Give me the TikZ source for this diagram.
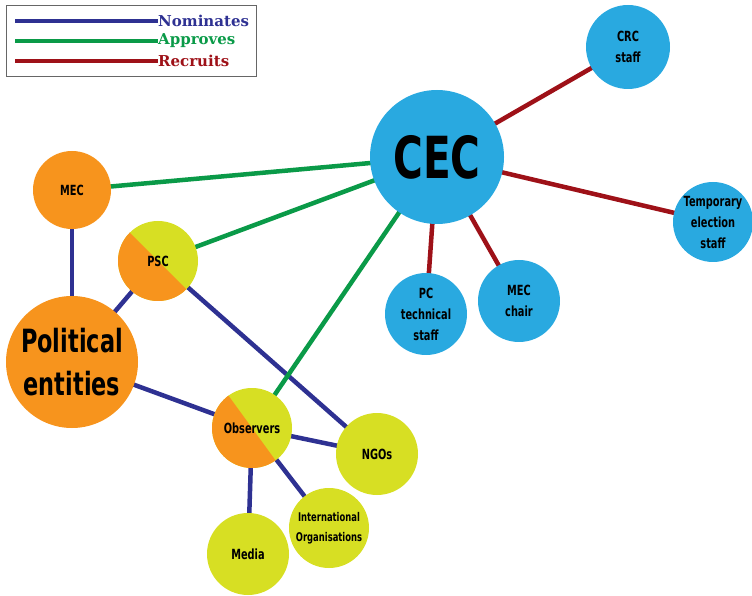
\documentclass[tikz,border=0pt]{standalone}
\usepackage{fontspec}
\usepackage{tikz}
\usetikzlibrary{backgrounds,calc}
\newfontfamily\lblfont[FakeStretch=0.7]{DejaVu Sans}
\newfontfamily\keyfont{DejaVu Serif}
\definecolor{nomblue}{HTML}{2E3192}
\definecolor{appgreen}{HTML}{0A9A48}
\definecolor{recred}{HTML}{9E1118}
\definecolor{cecblue}{HTML}{29A9E0}
\definecolor{partyorange}{HTML}{F7941D}
\definecolor{civylw}{HTML}{D7DF23}
\tikzset{
  bubble/.style={circle, inner sep=0pt, align=center, font=\lblfont\bfseries\fontsize{14}{21}\selectfont},
  body/.style={bubble, fill=cecblue},
  party/.style={bubble, fill=partyorange},
  civil/.style={bubble, fill=civylw},
  halfnode/.style={bubble, fill=civylw,
    path picture={\fill[partyorange]
      ($(path picture bounding box.center)+(#1:80pt)$) -- ($(path picture bounding box.center)+(#1-90:80pt)$)
      -- ($(path picture bounding box.center)+(#1+180:80pt)$) -- cycle;}},
  nom/.style={draw=nomblue, line width=4.5pt},
  app/.style={draw=appgreen, line width=4.5pt},
  rec/.style={draw=recred, line width=4.5pt},
  keytxt/.style={anchor=west, inner sep=0pt, font=\keyfont\bfseries\fontsize{15}{16}\selectfont}}

\begin{document}
\begin{tikzpicture}[x=1pt, y=1pt]
  \useasboundingbox (0,0) rectangle (752,595);
  % election bodies
  \node[body, minimum size=134pt, font=\lblfont\bfseries\fontsize{58}{60}\selectfont] (cec) at (437,438) {CEC};
  \node[body, minimum size=84pt] (crc) at (628,548) {CRC\\staff};
  \node[body, minimum size=80pt] (temp) at (713,373) {Temporary\\election\\staff};
  \node[body, minimum size=82pt] (pc) at (426,281) {PC\\technical\\staff};
  \node[body, minimum size=82pt] (mecc) at (519,294) {MEC\\chair};
  % parties and observers
  \node[party, minimum size=78pt] (mec) at (72,405) {MEC};
  \node[halfnode=-45, minimum size=80pt] (psc) at (158,334) {PSC};
  \node[party, minimum size=132pt, font=\lblfont\bfseries\fontsize{32}{43}\selectfont] (pe) at (72,233) {Political\\entities};
  \node[halfnode=-54, minimum size=80pt] (obs) at (252,167) {Observers};
  \node[civil, minimum size=82pt] (ngo) at (377,141) {NGOs};
  \node[civil, minimum size=82pt] (media) at (248,41) {Media};
  \node[civil, minimum size=80pt, font=\lblfont\bfseries\fontsize{12}{20}\selectfont] (intl) at (329,67) {International\\Organisations};
  % connectors
  \begin{scope}[on background layer]
    \draw[nom] (mec.center) -- (pe.center); \draw[nom] (psc.center) -- (pe.center); \draw[nom] (psc.center) -- (ngo.center);
    \draw[nom] (pe.center) -- (obs.center); \draw[nom] (obs.center) -- (ngo.center); \draw[nom] (obs.center) -- (media.center); \draw[nom] (obs.center) -- (intl.center);
    \draw[app] (cec.center) -- (mec.center); \draw[app] (cec.center) -- (psc.center); \draw[app] (cec.center) -- (obs.center);
    \draw[rec] (cec.center) -- (crc.center); \draw[rec] (cec.center) -- (temp.center); \draw[rec] (cec.center) -- (pc.center); \draw[rec] (cec.center) -- (mecc.center);
  \end{scope}
  % legend
  \node[draw=black!60, line width=0.8pt, minimum width=250pt, minimum height=71pt, inner sep=0pt] (key) at (131,554.5) {};
  \node[keytxt, text=nomblue] (knom) at (158,574) {Nominates};
  \node[keytxt, text=appgreen] (kapp) at (158,554) {Approves};
  \node[keytxt, text=recred] (krec) at (158,534) {Recruits};
  \coordinate (knom0) at (15,574); \coordinate (kapp0) at (15,554); \coordinate (krec0) at (15,534);
  \draw[nom, line width=3.5pt] (knom0) -- (knom.west); \draw[app, line width=3.5pt] (kapp0) -- (kapp.west); \draw[rec, line width=3.5pt] (krec0) -- (krec.west);
\end{tikzpicture}
\end{document}
